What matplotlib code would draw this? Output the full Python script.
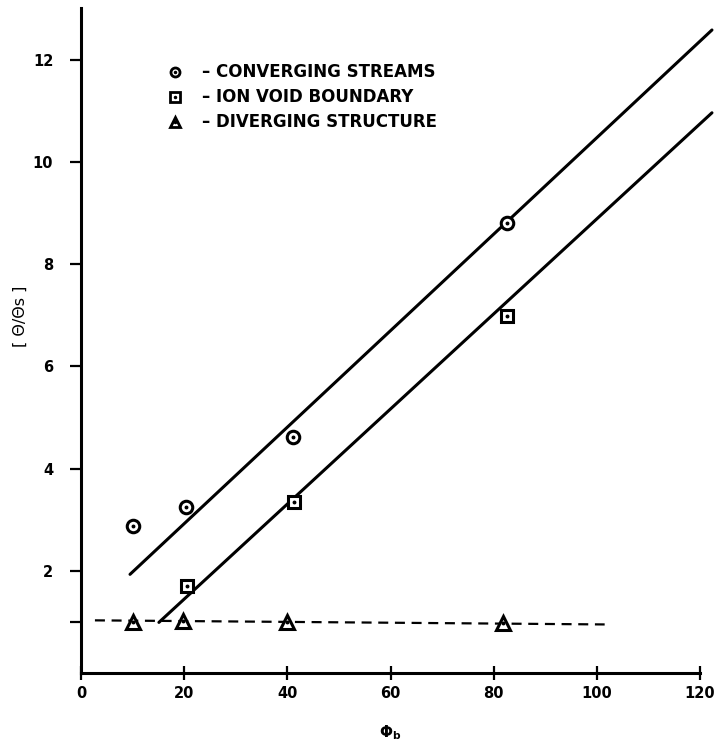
import matplotlib
matplotlib.use("Agg")
import matplotlib.pyplot as plt

# Data
conv_x = [10.1, 20.3, 41.1, 82.5]
conv_y = [2.88, 3.25, 4.62, 8.8]
ion_x = [20.5, 41.3, 82.5]
ion_y = [1.7, 3.35, 6.98]
div_x = [10.1, 19.8, 39.9, 81.8]
div_y = [1.0, 1.02, 1.0, 0.98]

conv_fit_x = [9.5, 122.3]
conv_fit_y = [1.93, 12.58]
ion_fit_x = [15.1, 122.3]
ion_fit_y = [0.99, 10.96]
div_fit_x = [2.7, 101.5]
div_fit_y = [1.03, 0.95]

xticks = [0, 20, 40, 60, 80, 100, 120]
yticks = [2, 4, 6, 8, 10, 12]

legend_labels = ['– CONVERGING STREAMS', '– ION VOID BOUNDARY', '– DIVERGING STRUCTURE']

plt.rcParams['font.family'] = ['DejaVu Sans']
fig = plt.figure(figsize=(7.15, 7.48), dpi=100)
ax = fig.add_axes([81/715, 75/748, 632/715, 665/748])
ax.set_xlim(0, 122.5)
ax.set_ylim(0, 13.01)

ax.plot(conv_fit_x, conv_fit_y, color='black', lw=2.2, solid_capstyle='round', clip_on=False)
ax.plot(ion_fit_x, ion_fit_y, color='black', lw=2.2, solid_capstyle='round', clip_on=False)
ax.plot(div_fit_x, div_fit_y, color='black', lw=1.6, linestyle=(0, (4.5, 3)))

mk = dict(markerfacecolor='white', markeredgecolor='black', markeredgewidth=2.2,
          linestyle='none', zorder=3)
ax.plot(conv_x, conv_y, marker='o', markersize=9, **mk)
ax.plot(ion_x, ion_y, marker='s', markersize=8, **mk)
ax.plot(div_x, div_y, marker='^', markersize=9.5, **mk)
for xs, ys in [(conv_x, conv_y), (ion_x, ion_y), (div_x, div_y)]:
    ax.plot(xs, ys, marker='o', markersize=1.8, color='black', linestyle='none', zorder=4)

for s in ['top', 'right']:
    ax.spines[s].set_visible(False)
for s in ['left', 'bottom']:
    ax.spines[s].set_linewidth(2.2)
ax.spines['bottom'].set_bounds(0, 120)

ax.set_xticks(xticks)
ax.set_yticks(yticks + [1], [str(t) for t in yticks] + [''])
ax.tick_params(axis='x', direction='inout', length=10, width=1.6, labelsize=10.5, pad=4)
ax.tick_params(axis='y', direction='out', length=8, width=1.6, labelsize=10.5, pad=12)
for lab in ax.get_xticklabels() + ax.get_yticklabels():
    lab.set_fontweight('bold')

ax.set_xlabel(r'$\mathbf{\Phi}_\mathbf{b}$', fontsize=11)
ax.xaxis.set_label_coords(0.489, -0.076)
ax.set_ylabel('[ Θ/Θs ]', fontsize=11.5)
ax.yaxis.set_label_coords(-0.084, 0.537)

# Legend drawn as markers with text
leg_y = [11.76, 11.27, 10.78]
leg_m = ['o', 's', '^']
for yy, m, t in zip(leg_y, leg_m, legend_labels):
    ax.plot([18.2], [yy], marker=m, markersize=6.5, markerfacecolor='white',
            markeredgecolor='black', markeredgewidth=2.0, linestyle='none')
    ax.plot([18.2], [yy], marker='o', markersize=1.5, color='black', linestyle='none')
    ax.text(23.4, yy, t, fontsize=12, fontweight='bold', va='center', ha='left')

fig.savefig('out.png', dpi=100)
